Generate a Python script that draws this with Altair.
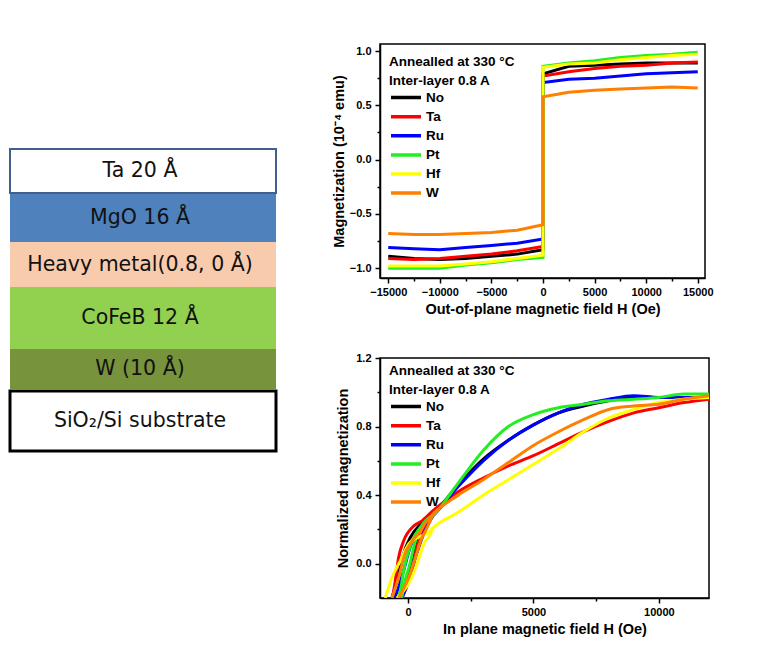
import altair as alt
import pandas as pd

# ---------------- layer stack (left) ----------------
layer_labels = ["Ta 20 Å", "MgO 16 Å", "Heavy metal(0.8, 0 Å)", "CoFeB 12 Å", "W (10 Å)", "SiO₂/Si substrate"]
layer_thickness = [44, 49, 45, 62, 40, 60]      # drawn thickness (diagram units)
layer_gap_before = [0, 0, 0, 0, 0, 2]
layer_fill = ["#ffffff", "#4f81bd", "#f8cbad", "#92d050", "#77933c", "#ffffff"]
layer_border = ["#41618c", "none", "none", "none", "none", "#000000"]
layer_border_w = [2, 0, 0, 0, 0, 3]
stack_start = 105

# ---------------- out-of-plane loops (top right) ----------------
materials = ["No", "Ta", "Ru", "Pt", "\u00a0Hf", "W"]
colors = ["#000000", "#ff0000", "#0000ff", "#22ee22", "#ffff00", "#ff8000"]

H_out_lower = [-15000, -12500, -10000, -7500, -5000, -2500, 0]
H_out_upper = [0, 2500, 5000, 7500, 10000, 12500, 15000]
M_out_lower = {
    "No": [-0.89, -0.91, -0.92, -0.91, -0.89, -0.87, -0.83],
    "Ta": [-0.91, -0.92, -0.91, -0.89, -0.87, -0.84, -0.80],
    "Ru": [-0.81, -0.82, -0.83, -0.81, -0.79, -0.77, -0.73],
    "Pt": [-1.00, -1.00, -1.00, -0.97, -0.95, -0.92, -0.90],
    "\u00a0Hf": [-0.98, -0.98, -0.98, -0.96, -0.94, -0.91, -0.88],
    "W": [-0.68, -0.69, -0.69, -0.68, -0.67, -0.65, -0.60],
}
M_out_upper = {
    "No": [0.79, 0.86, 0.87, 0.88, 0.89, 0.89, 0.89],
    "Ta": [0.77, 0.81, 0.84, 0.86, 0.87, 0.89, 0.90],
    "Ru": [0.71, 0.74, 0.75, 0.77, 0.79, 0.80, 0.81],
    "Pt": [0.86, 0.89, 0.91, 0.94, 0.96, 0.97, 0.99],
    "\u00a0Hf": [0.85, 0.88, 0.89, 0.92, 0.94, 0.96, 0.97],
    "W": [0.58, 0.62, 0.64, 0.65, 0.66, 0.67, 0.66],
}

# ---------------- in-plane curves (bottom right) ----------------
H_in_main = [1000, 2000, 3000, 4000, 5000, 6000, 7000, 8000, 9000, 10000, 11000, 12000]
M_in_main = {
    "No": [0.29, 0.46, 0.61, 0.72, 0.81, 0.88, 0.92, 0.95, 0.97, 0.97, 0.97, 0.97],
    "Ta": [0.31, 0.42, 0.50, 0.57, 0.63, 0.70, 0.77, 0.83, 0.88, 0.91, 0.94, 0.96],
    "Ru": [0.28, 0.45, 0.60, 0.72, 0.81, 0.88, 0.93, 0.96, 0.98, 0.97, 0.97, 0.97],
    "Pt": [0.28, 0.47, 0.66, 0.80, 0.87, 0.91, 0.93, 0.95, 0.96, 0.97, 0.99, 0.99],
    "\u00a0Hf": [0.21, 0.30, 0.40, 0.49, 0.58, 0.67, 0.77, 0.85, 0.90, 0.94, 0.96, 0.97],
    "W": [0.29, 0.40, 0.49, 0.59, 0.69, 0.77, 0.84, 0.90, 0.92, 0.93, 0.96, 0.98],
}
H_in_left = {
    "No": [-640, -373, -173, 80, 500],
    "Ta": [-620, -508, -373, -173, 227, 560],
    "Ru": [-520, -173, 80, 427, 700],
    "Pt": [-420, -307, -173, 27, 293, 600],
    "\u00a0Hf": [-907, -640, -307, 27, 493, 800],
    "W": [-640, -373, -120, 160, 493, 700],
}
M_in_left = {
    "No": [-0.2, -0.06, 0.06, 0.15, 0.23],
    "Ta": [-0.2, -0.10, 0.037, 0.134, 0.22, 0.25],
    "Ru": [-0.2, -0.04, 0.095, 0.19, 0.24],
    "Pt": [-0.2, -0.16, -0.04, 0.076, 0.17, 0.23],
    "\u00a0Hf": [-0.2, -0.08, 0.017, 0.115, 0.16, 0.18],
    "W": [-0.2, -0.08, 0.06, 0.13, 0.19, 0.24],
}
H_in_right = {
    "No": [-307, -40, 160, 360, 700],
    "Ta": [-240, 27, 227, 360, 560, 760],
    "Ru": [-240, 27, 293, 560, 800],
    "Pt": [-250, -120, 80, 227, 427, 700],
    "\u00a0Hf": [-440, 80, 360, 627, 880],
    "W": [-373, 27, 293, 493, 760],
}
M_in_right = {
    "No": [-0.2, -0.08, 0.035, 0.15, 0.24],
    "Ta": [-0.2, -0.1, 0.0, 0.095, 0.17, 0.23],
    "Ru": [-0.2, -0.1, 0.035, 0.15, 0.23],
    "Pt": [-0.2, -0.1, 0.0, 0.095, 0.19, 0.25],
    "\u00a0Hf": [-0.2, -0.1, 0.0, 0.115, 0.17],
    "W": [-0.2, -0.08, 0.035, 0.13, 0.21],
}

# ---------------- build tables ----------------
rows = []
top = stack_start
for lab, th, gap, fc, bc, bw in zip(layer_labels, layer_thickness, layer_gap_before,
                                    layer_fill, layer_border, layer_border_w):
    top += gap
    rows.append(dict(label=lab, top=top, bottom=top + th, mid=top + th / 2,
                     fill=fc, border=bc, bw=bw))
    top += th
stack_df = pd.DataFrame(rows)

out_rows = []
for m in materials:
    Hs = H_out_lower + H_out_upper
    Ms = M_out_lower[m] + M_out_upper[m]
    for i, (h, v) in enumerate(zip(Hs, Ms)):
        out_rows.append(dict(material=m, H=h, M=v, i=i))
df_out = pd.DataFrame(out_rows)

in_rows = []
for m in materials:
    a_H = H_in_left[m] + H_in_main
    a_M = M_in_left[m] + M_in_main[m]
    b_H = H_in_right[m] + H_in_main[:1]
    b_M = M_in_right[m] + M_in_main[m][:1]
    for i, (h, v) in enumerate(zip(a_H, a_M)):
        in_rows.append(dict(material=m, branch="a", H=h, M=v, i=i))
    for i, (h, v) in enumerate(zip(b_H, b_M)):
        in_rows.append(dict(material=m, branch="b", H=h, M=v, i=i))
df_in = pd.DataFrame(in_rows)

FONT = "Liberation Sans"
STACK_W = 266

# ---------------- stack chart ----------------
ys_stack = alt.Scale(domain=[0, 420], reverse=True)
sbase = alt.Chart(stack_df)
fills = sbase.mark_rect().encode(
    x=alt.value(0), x2=alt.value(STACK_W),
    y=alt.Y("top:Q", scale=ys_stack, axis=None), y2="bottom:Q",
    fill=alt.Fill("fill:N", scale=None),
)
borders = sbase.transform_filter("datum.bw > 0").mark_rect(fillOpacity=0).encode(
    x=alt.value(0), x2=alt.value(STACK_W),
    y=alt.Y("top:Q", scale=ys_stack, axis=None), y2="bottom:Q",
    stroke=alt.Stroke("border:N", scale=None),
    strokeWidth=alt.StrokeWidth("bw:Q", scale=None),
)
texts = sbase.mark_text(font="DejaVu Sans", fontSize=20.5, color="#111111", baseline="middle").encode(
    x=alt.value(STACK_W / 2 - 3),
    y=alt.Y("mid:Q", scale=ys_stack, axis=None),
    text="label:N",
)
stack = alt.layer(fills, borders, texts).properties(width=STACK_W, height=420)

# ---------------- shared styling ----------------
color_scale = alt.Scale(domain=materials, range=colors)


def make_legend(ly):
    return alt.Legend(
        orient="none", legendX=9, legendY=ly,
        title=["Annealled at 330 °C", "Inter-layer 0.8 A"],
        titleFont=FONT, titleFontSize=13.5, titleFontWeight="bold", titleColor="black",
        titleLineHeight=18.6, titlePadding=4.5, titleAnchor="start",
        labelFont=FONT, labelFontSize=13.5, labelFontWeight="bold", labelColor="black",
        symbolType="stroke", symbolStrokeWidth=3.5, symbolSize=900,
        clipHeight=12, labelOffset=3, rowPadding=5.1, padding=0,
    )


def tick_cond(test):
    return {"condition": {"test": test, "value": 5}, "value": 3}


# ---------------- top plot ----------------
xs_top = alt.Scale(domain=[-15800, 15700], nice=False, zero=False)
ys_top = alt.Scale(domain=[-1.09, 1.065], nice=False, zero=False)
xaxis_top = alt.Axis(
    title="Out-of-plane magnetic field H (Oe)",
    values=[-15000, -12500, -10000, -7500, -5000, -2500, 0, 2500, 5000, 7500, 10000, 12500, 15000],
    labelExpr="datum.value % 5000 === 0 ? format(datum.value, 'd') : ''",
    tickSize=tick_cond("datum.value % 5000 === 0"),
    labelPadding=3, titlePadding=5,
)
yaxis_top = alt.Axis(
    title="Magnetization (10⁻⁴ emu)",
    values=[-1.0, -0.75, -0.5, -0.25, 0.0, 0.25, 0.5, 0.75, 1.0],
    labelExpr="abs(datum.value*2 - round(datum.value*2)) < 0.001 ? format(datum.value, '.1f') : ''",
    tickSize=tick_cond("abs(datum.value*2 - round(datum.value*2)) < 0.001"),
    labelPadding=4, titlePadding=3,
)
top_layers = []
for m in materials:
    top_layers.append(
        alt.Chart(df_out).transform_filter(alt.datum.material == m)
        .mark_line(strokeWidth=3, clip=True)
        .encode(
            x=alt.X("H:Q", scale=xs_top, axis=xaxis_top),
            y=alt.Y("M:Q", scale=ys_top, axis=yaxis_top),
            color=alt.Color("material:N", scale=color_scale, legend=make_legend(11)),
            order="i:Q",
        )
    )
top_chart = alt.layer(*top_layers).properties(
    width=325, height=234, view=alt.ViewBackground(stroke="black", strokeWidth=1.5)
)

# ---------------- bottom plot ----------------
xs_bot = alt.Scale(domain=[-1117, 12000], nice=False, zero=False)
ys_bot = alt.Scale(domain=[-0.2, 1.2], nice=False, zero=False)
xaxis_bot = alt.Axis(
    title="In plane magnetic field H (Oe)",
    values=[0, 2500, 5000, 7500, 10000],
    labelExpr="datum.value % 5000 === 0 ? format(datum.value, 'd') : ''",
    tickSize=tick_cond("datum.value % 5000 === 0"),
    labelPadding=3, titlePadding=5,
)
yaxis_bot = alt.Axis(
    title="Normalized magnetization",
    values=[0.0, 0.2, 0.4, 0.6, 0.8, 1.0, 1.2],
    labelExpr="abs(datum.value/0.4 - round(datum.value/0.4)) < 0.001 ? format(datum.value, '.1f') : ''",
    tickSize=tick_cond("abs(datum.value/0.4 - round(datum.value/0.4)) < 0.001"),
    labelPadding=4, titlePadding=5,
)
bot_layers = []
for m in materials:
    bot_layers.append(
        alt.Chart(df_in).transform_filter(alt.datum.material == m)
        .mark_line(strokeWidth=3, clip=True, interpolate="monotone")
        .encode(
            x=alt.X("H:Q", scale=xs_bot, axis=xaxis_bot),
            y=alt.Y("M:Q", scale=ys_bot, axis=yaxis_bot),
            color=alt.Color("material:N", scale=color_scale, legend=make_legend(6)),
            detail="branch:N",
            order="i:Q",
        )
    )
bot_chart = alt.layer(*bot_layers).properties(
    width=329, height=240, view=alt.ViewBackground(stroke="black", strokeWidth=1.5)
)

right = alt.vconcat(top_chart, bot_chart, spacing=80, bounds="flush").resolve_scale(
    color="independent").resolve_legend(color="independent")

chart = alt.hconcat(stack, right, spacing=104, bounds="flush").properties(
    padding={"top": 35, "left": 0, "right": 5, "bottom": 5}
).configure_view(stroke=None).configure_axis(
    labelFont=FONT, labelFontSize=11, labelFontWeight="bold", labelColor="black",
    titleFont=FONT, titleFontSize=14.5, titleFontWeight="bold", titleColor="black",
    domainColor="black", domainWidth=1.5, tickColor="black", tickWidth=1.5, grid=False,
)

chart.save("out.html", embed_options={"renderer": "svg", "actions": False})
